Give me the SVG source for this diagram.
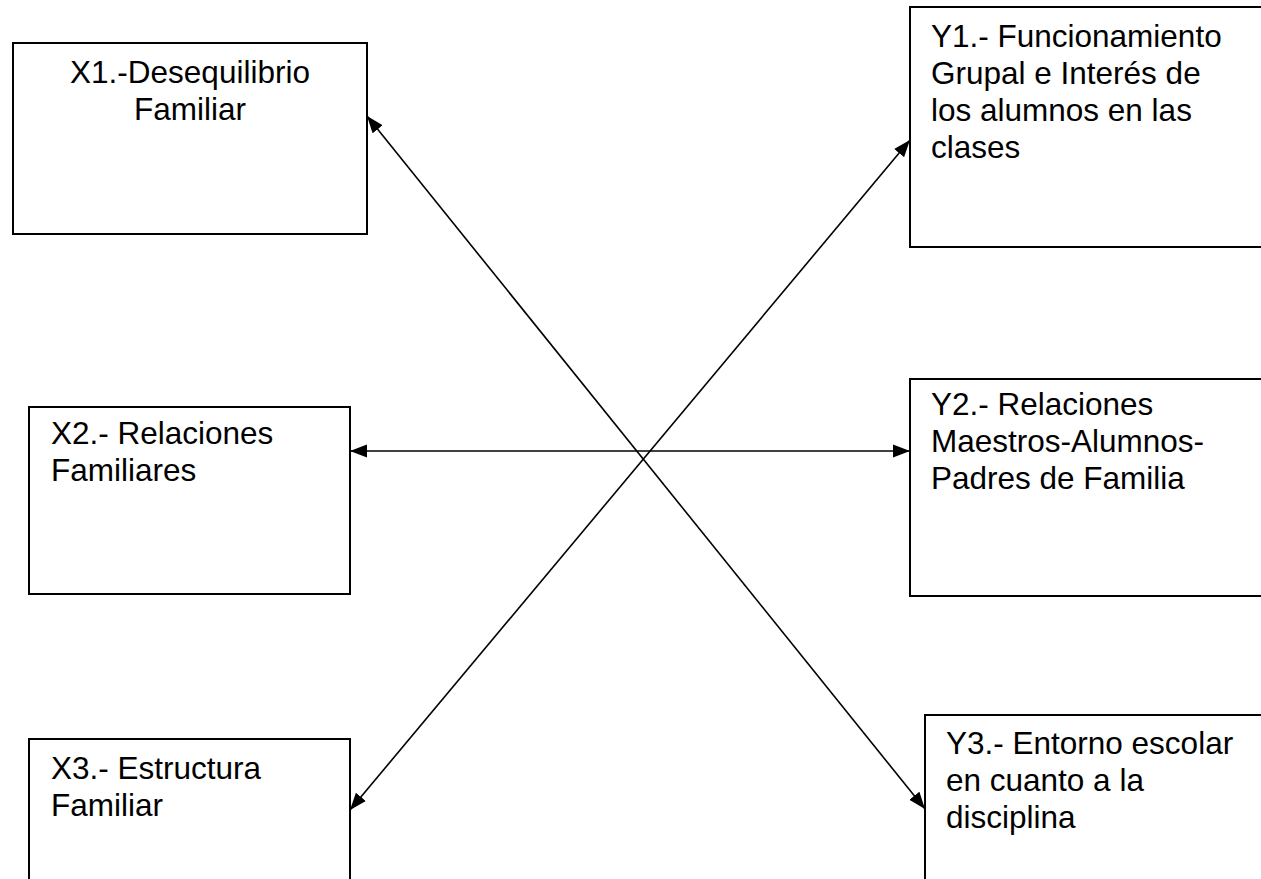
<svg xmlns="http://www.w3.org/2000/svg" width="1261" height="879" viewBox="0 0 1261 879">
<style>
.box{fill:#fff;stroke:#000;stroke-width:2}
.t{font-family:"Liberation Sans",Arial,sans-serif;font-size:31.5px;fill:#000}
.c{text-anchor:middle}
.conn{stroke:#000;stroke-width:1.6;fill:none}
</style>
<defs>
<marker id="ah" markerUnits="userSpaceOnUse" markerWidth="18" markerHeight="14" refX="17" refY="6.5" orient="auto-start-reverse" viewBox="0 0 18 13">
<path d="M0,0 L17,6.5 L0,13 z" fill="#000"/>
</marker>
</defs>
<rect width="1261" height="879" fill="#fff"/>
<g id="X1">
<rect class="box" x="13" y="43" width="354" height="191"/>
<text class="t c" x="190" y="83">X1.-Desequilibrio</text>
<text class="t c" x="190" y="120">Familiar</text>
</g>
<g id="X2">
<rect class="box" x="29" y="407" width="321" height="187"/>
<text class="t" x="51" y="444">X2.- Relaciones</text>
<text class="t" x="51" y="481">Familiares</text>
</g>
<g id="X3">
<rect class="box" x="29" y="739" width="321" height="160"/>
<text class="t" x="51" y="779">X3.- Estructura</text>
<text class="t" x="51" y="816">Familiar</text>
</g>
<g id="Y1">
<rect class="box" x="910" y="7" width="380" height="240"/>
<text class="t" x="931" y="47">Y1.- Funcionamiento</text>
<text class="t" x="931" y="84">Grupal e Interés de</text>
<text class="t" x="931" y="121">los alumnos en las</text>
<text class="t" x="931" y="158">clases</text>
</g>
<g id="Y2">
<rect class="box" x="910" y="379" width="380" height="217"/>
<text class="t" x="931" y="415">Y2.- Relaciones</text>
<text class="t" x="931" y="452">Maestros-Alumnos-</text>
<text class="t" x="931" y="489">Padres de Familia</text>
</g>
<g id="Y3">
<rect class="box" x="925" y="715" width="380" height="200"/>
<text class="t" x="946" y="754">Y3.- Entorno escolar</text>
<text class="t" x="946" y="791">en cuanto a la</text>
<text class="t" x="946" y="828">disciplina</text>
</g>
<g id="connectors">
<line class="conn" x1="367" y1="116" x2="925" y2="809" marker-start="url(#ah)" marker-end="url(#ah)"/>
<line class="conn" x1="350" y1="810" x2="910" y2="140" marker-start="url(#ah)" marker-end="url(#ah)"/>
<line class="conn" x1="350" y1="451" x2="910" y2="451" marker-start="url(#ah)" marker-end="url(#ah)"/>
</g>
</svg>
